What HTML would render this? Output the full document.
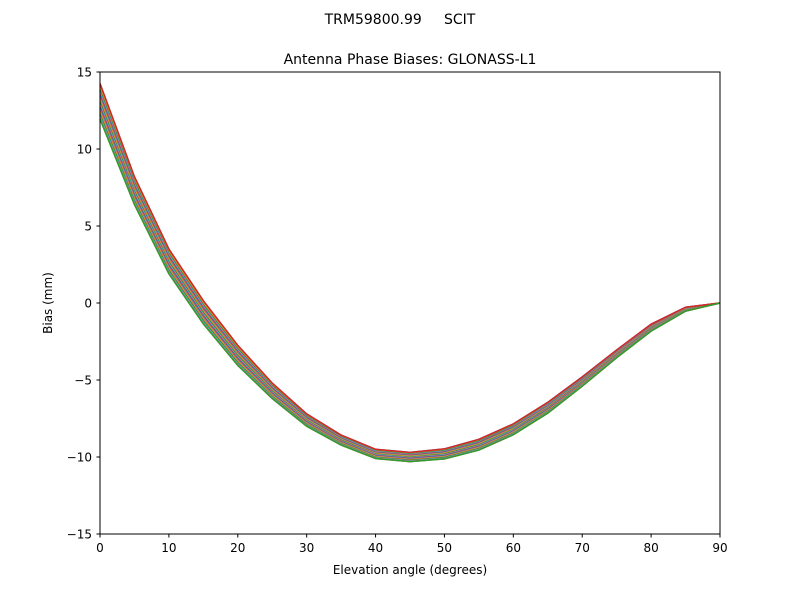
<!DOCTYPE html>
<html><head><meta charset="utf-8"><style>
body{margin:0;background:#fff}
svg text{font-family:"DejaVu Sans","Liberation Sans",sans-serif;fill:#000}
</style></head><body>
<svg id="s" width="800" height="600" xmlns="http://www.w3.org/2000/svg">
<rect width="800" height="600" fill="#fff"/>
<text x="400" y="24" font-size="14" text-anchor="middle" xml:space="preserve">TRM59800.99     SCIT</text>
<text x="410" y="64" font-size="14" text-anchor="middle">Antenna Phase Biases: GLONASS-L1</text>
<g id="lines"></g>
<rect x="100" y="72" width="620" height="462" fill="none" stroke="#000" stroke-width="1"/>
<g id="ticks" font-size="12"></g>
<text x="410" y="574" font-size="12" text-anchor="middle">Elevation angle (degrees)</text>
<text x="52" y="303" font-size="12" text-anchor="middle" transform="rotate(-90 52 303)">Bias (mm)</text>
</svg>
<script>
const X=e=>100+e*620/90, Y=v=>303-v*15.4;
const base=[13.1,7.3,2.7,-0.6,-3.4,-5.7,-7.6,-8.9,-9.8,-10.0,-9.8,-9.2,-8.2,-6.8,-5.1,-3.3,-1.6,-0.4,0];
const spr=[2.3,1.8,1.6,1.5,1.3,1.0,0.8,0.65,0.6,0.6,0.65,0.7,0.7,0.7,0.6,0.5,0.45,0.25,0];
const cols=["#1f77b4","#ff7f0e","#2ca02c","#d62728","#9467bd","#8c564b","#e377c2","#7f7f7f","#bcbd22","#17becf"];
let g=document.getElementById('lines'),h='';
const N=30;
for(let k=0;k<N;k++){
 const f=0.5-k/(N-1);
 let d='';
 for(let i=0;i<19;i++){d+=(i?'L':'M')+X(i*5).toFixed(1)+','+Y(base[i]+f*spr[i]).toFixed(1);}
 h+=`<path d="${d}" fill="none" stroke="${cols[(k*7)%10]}" stroke-width="1.5"/>`;
}
// ensure top red-ish and bottom green
let d1='',d2='';
for(let i=0;i<19;i++){d1+=(i?'L':'M')+X(i*5)+','+Y(base[i]+0.5*spr[i]);d2+=(i?'L':'M')+X(i*5)+','+Y(base[i]-0.5*spr[i]);}
h+=`<path d="${d1}" fill="none" stroke="#d62728" stroke-width="1.5"/><path d="${d2}" fill="none" stroke="#2ca02c" stroke-width="1.5"/>`;
g.innerHTML=h;
let t='';
for(let e=0;e<=90;e+=10){const x=X(e);t+=`<line x1="${x}" y1="534" x2="${x}" y2="537.5" stroke="#000"/><text x="${x}" y="552" text-anchor="middle">${e}</text>`;}
for(let v=-15;v<=15;v+=5){const y=Y(v);t+=`<line x1="96.5" y1="${y}" x2="100" y2="${y}" stroke="#000"/><text x="92" y="${y+4.5}" text-anchor="end">${v<0?'\u2212'+(-v):v}</text>`;}
document.getElementById('ticks').innerHTML=t;
</script>
</body></html>
